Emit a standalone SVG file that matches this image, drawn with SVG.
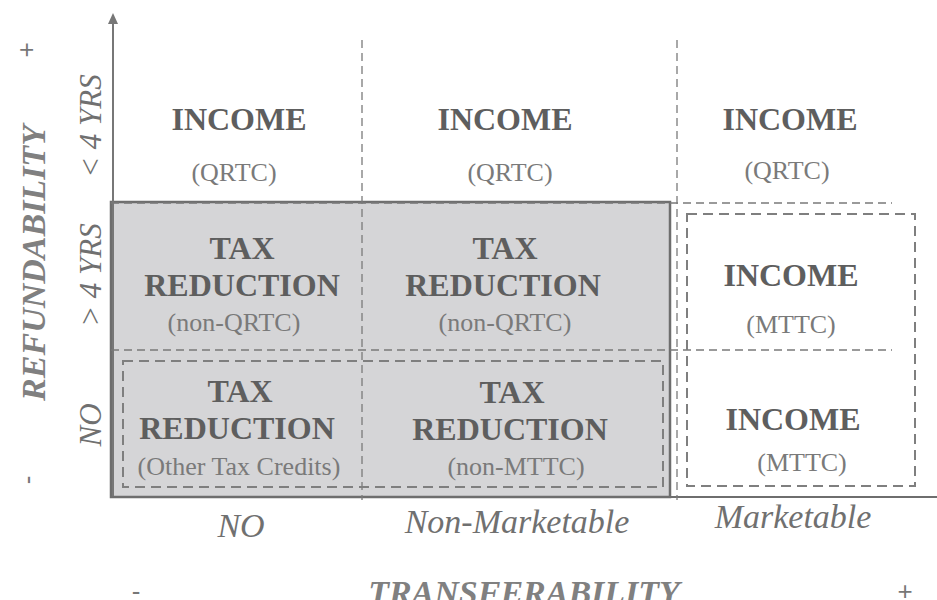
<svg xmlns="http://www.w3.org/2000/svg" width="937" height="600" viewBox="0 0 937 600">
<defs>
<style>
.h{font-family:"Liberation Serif","DejaVu Serif",serif;font-weight:bold;font-size:32px;fill:#5e5e5e;text-anchor:middle}
.s{font-family:"Liberation Serif","DejaVu Serif",serif;font-size:26px;fill:#7a7a7a;text-anchor:middle}
.ax{font-family:"Liberation Serif","DejaVu Serif",serif;font-style:italic;font-size:34px;fill:#707070;text-anchor:middle}
.ay{font-family:"Liberation Serif","DejaVu Serif",serif;font-style:italic;font-size:31px;fill:#707070;text-anchor:middle}
.tt{font-family:"Liberation Serif","DejaVu Serif",serif;font-style:italic;font-weight:bold;font-size:34px;fill:#808080;text-anchor:middle}
.pm{font-family:"Liberation Sans","DejaVu Sans",sans-serif;font-size:26px;fill:#777;text-anchor:middle}
.grid{stroke:#7a7a7a;stroke-width:1.3;stroke-dasharray:8 5;fill:none}
.box{stroke:#7f7f7f;stroke-width:2;stroke-dasharray:10 6;fill:none}
</style>
</defs>
<rect width="937" height="600" fill="#fff"/>
<g id="shaded">
<rect x="111" y="202" width="559" height="295" fill="#d5d5d7" stroke="#6e6e6e" stroke-width="2.5"/>
</g>
<g id="connectors">
<line x1="113" y1="497" x2="113" y2="22" stroke="#777" stroke-width="2"/>
<polygon points="113,13 108,24 118,24" fill="#777"/>
<line x1="111" y1="497" x2="937" y2="497" stroke="#6e6e6e" stroke-width="2"/>
<line class="grid" x1="362" y1="40" x2="362" y2="500"/>
<line class="grid" x1="677" y1="40" x2="677" y2="500"/>
<line class="grid" x1="111" y1="203" x2="892" y2="203"/>
<line class="grid" x1="111" y1="350" x2="892" y2="350"/>
<rect class="box" x="123" y="361" width="540" height="126"/>
<rect class="box" x="687" y="214" width="228" height="272"/>
</g>
<g id="r1c1"><text class="h" x="239" y="130">INCOME</text><text class="s" x="234" y="181">(QRTC)</text></g>
<g id="r1c2"><text class="h" x="505" y="130">INCOME</text><text class="s" x="510" y="181">(QRTC)</text></g>
<g id="r1c3"><text class="h" x="790" y="130">INCOME</text><text class="s" x="787" y="179">(QRTC)</text></g>
<g id="r2c1"><text class="h" x="242" y="259">TAX</text><text class="h" x="242" y="296">REDUCTION</text><text class="s" x="234" y="331">(non-QRTC)</text></g>
<g id="r2c2"><text class="h" x="505" y="259">TAX</text><text class="h" x="503" y="296">REDUCTION</text><text class="s" x="505" y="331">(non-QRTC)</text></g>
<g id="r2c3"><text class="h" x="791" y="286">INCOME</text><text class="s" x="791" y="333">(MTTC)</text></g>
<g id="r3c1"><text class="h" x="240" y="402">TAX</text><text class="h" x="237" y="439">REDUCTION</text><text class="s" x="239" y="475">(Other Tax Credits)</text></g>
<g id="r3c2"><text class="h" x="512" y="403">TAX</text><text class="h" x="510" y="440">REDUCTION</text><text class="s" x="516" y="475">(non-MTTC)</text></g>
<g id="r3c3"><text class="h" x="793" y="430">INCOME</text><text class="s" x="802" y="471">(MTTC)</text></g>
<g id="yaxis-labels">
<text class="ay" transform="translate(101,126) rotate(-90)">&lt; 4 YRS</text>
<text class="ay" transform="translate(101,275) rotate(-90)">&gt; 4 YRS</text>
<text class="ay" transform="translate(101,425) rotate(-90)">NO</text>
<text class="tt" transform="translate(45,263) rotate(-90)">REFUNDABILITY</text>
<text class="pm" transform="translate(35,50) rotate(-90)">+</text>
<text class="pm" transform="translate(36,480) rotate(-90)">-</text>
</g>
<g id="xaxis-labels">
<text class="ax" x="241" y="537">NO</text>
<text class="ax" x="517" y="533">Non-Marketable</text>
<text class="ax" x="793" y="528">Marketable</text>
<text class="tt" x="524" y="604">TRANSFERABILITY</text>
<text class="pm" x="136" y="600">-</text>
<text class="pm" x="905" y="600">+</text>
</g>
</svg>
